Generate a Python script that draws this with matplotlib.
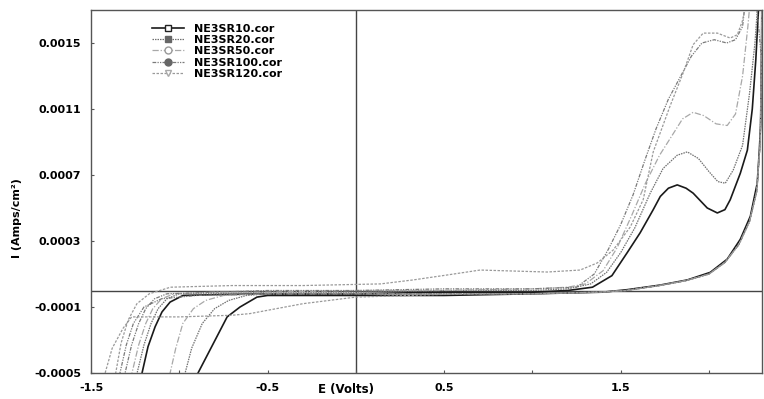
import matplotlib
matplotlib.use("Agg")
import matplotlib.pyplot as plt
from matplotlib.lines import Line2D
from matplotlib.ticker import FixedLocator

plt.rcParams['font.family'] = ['DejaVu Sans']
plt.rcParams['axes.unicode_minus'] = False

# ---------------- data ----------------
labels = ["NE3SR10.cor", "NE3SR20.cor", "NE3SR50.cor", "NE3SR100.cor", "NE3SR120.cor"]

E10 = [-1.23, -1.211, -1.177, -1.137, -1.098, -1.052, -0.979, -0.8, -0.5, 0.0, 0.5, 1.0, 1.2,
       1.34, 1.45, 1.537, 1.61, 1.684, 1.724, 1.77, 1.82, 1.87, 1.91, 1.99, 2.047, 2.09, 2.12,
       2.177, 2.217, 2.245, 2.265, 2.28, 2.3, 2.298, 2.292, 2.285, 2.273, 2.234, 2.177, 2.103,
       2.007, 1.877, 1.724, 1.537, 1.40, 1.0, 0.5, 0.0, -0.5, -0.56, -0.656, -0.729, -0.826,
       -0.894, -0.92]
I10 = [-0.0006, -0.0005, -0.00034, -0.00022, -0.00013, -0.00007, -0.00003, -0.000025, -0.00002,
       -0.00002, -0.00001, -0.00001, 0.0, 0.00002, 0.00009, 0.00023, 0.00035, 0.00049, 0.00057,
       0.00062, 0.00064, 0.00062, 0.00059, 0.0005, 0.00047, 0.00049, 0.00055, 0.00071, 0.00085,
       0.0011, 0.0014, 0.0017, 0.0020, 0.0015, 0.0010, 0.00085, 0.00065, 0.00045, 0.00031,
       0.00019, 0.00011, 0.000064, 0.000033, 0.000005, -0.00001, -0.00002, -0.00003, -0.00003,
       -0.00003, -0.00004, -0.0001, -0.00016, -0.00036, -0.0005, -0.0006]

E20 = [-1.26, -1.239, -1.2, -1.16, -1.12, -1.07, -1.0, -0.8, -0.5, 0.0, 0.5, 1.0, 1.2, 1.33,
       1.42, 1.5, 1.58, 1.667, 1.74, 1.82, 1.877, 1.94, 2.0, 2.05, 2.092, 2.137, 2.19, 2.23,
       2.26, 2.28, 2.3, 2.297, 2.29, 2.27, 2.23, 2.17, 2.09, 2.0, 1.87, 1.72, 1.53, 1.38, 1.0,
       0.5, 0.0, -0.5, -0.62, -0.72, -0.8, -0.87, -0.93, -0.967, -0.99]
I20 = [-0.0006, -0.0005, -0.00033, -0.0002, -0.00011, -0.00005, -0.00002, -0.00002, -0.00001,
       -0.00001, 0.0, 0.0, 0.00001, 0.00004, 0.00011, 0.00023, 0.00038, 0.00059, 0.00074,
       0.00082, 0.00084, 0.0008, 0.00072, 0.00066, 0.00065, 0.00073, 0.00088, 0.0012, 0.0015,
       0.0018, 0.0020, 0.0014, 0.0009, 0.0006, 0.00042, 0.00028, 0.00017, 0.0001, 0.00006,
       0.00003, 0.0, -0.00001, -0.00002, -0.00002, -0.00002, -0.00002, -0.00003, -0.00006,
       -0.00011, -0.0002, -0.00035, -0.0005, -0.0006]

E50 = [-1.29, -1.268, -1.23, -1.19, -1.15, -1.1, -1.03, -0.8, -0.5, 0.0, 0.5, 1.0, 1.2, 1.3,
       1.4, 1.48, 1.56, 1.64, 1.72, 1.797, 1.85, 1.91, 1.97, 2.04, 2.103, 2.15, 2.19, 2.22,
       2.245, 2.3, 2.297, 2.29, 2.27, 2.23, 2.17, 2.09, 2.0, 1.87, 1.72, 1.53, 1.38, 1.0, 0.5,
       0.0, -0.5, -0.75, -0.85, -0.92, -0.98, -1.02, -1.052, -1.07]
I50 = [-0.0006, -0.0005, -0.00033, -0.0002, -0.00011, -0.00005, -0.00002, -0.00001, -0.00001,
       0.0, 0.0, 0.00001, 0.00002, 0.00004, 0.00012, 0.00026, 0.00045, 0.00065, 0.00082,
       0.00095, 0.00104, 0.00108, 0.00106, 0.00101, 0.001, 0.00107, 0.0013, 0.0016, 0.0019,
       0.0021, 0.0014, 0.0009, 0.0006, 0.00042, 0.00028, 0.00017, 0.0001, 0.00006, 0.00003,
       0.0, -0.00001, -0.00002, -0.00002, -0.00002, -0.00002, -0.00003, -0.00006, -0.00011,
       -0.0002, -0.00035, -0.0005, -0.0006]

E100 = [-1.33, -1.307, -1.27, -1.23, -1.19, -1.14, -1.07, -0.8, -0.5, 0.0, 0.5, 1.0, 1.25,
        1.35, 1.43, 1.5, 1.57, 1.64, 1.7, 1.77, 1.84, 1.9, 1.96, 2.03, 2.1, 2.15, 2.19, 2.21,
        2.24, 2.297, 2.29, 2.27, 2.23, 2.17, 2.09, 2.0, 1.87, 1.72, 1.53, 1.38, 1.0, 0.5, 0.0,
        -0.5, -0.9, -1.1, -1.2, -1.26, -1.3, -1.336, -1.36]
I100 = [-0.0006, -0.0005, -0.00033, -0.0002, -0.00011, -0.00005, -0.00002, -0.00001, 0.0,
        0.0, 0.00001, 0.00001, 0.00002, 0.0001, 0.00025, 0.0004, 0.00058, 0.0008, 0.00098,
        0.00116, 0.0013, 0.00142, 0.0015, 0.00152, 0.0015, 0.00152, 0.0016, 0.0018, 0.0021,
        0.0014, 0.0009, 0.0006, 0.00042, 0.00028, 0.00017, 0.0001, 0.00006, 0.00003, 0.0,
        -0.00001, -0.00002, -0.00002, -0.00002, -0.00002, -0.00003, -0.00005, -0.0001,
        -0.0002, -0.00033, -0.0005, -0.0006]

E120 = [-1.38, -1.36, -1.33, -1.29, -1.24, -1.17, -1.05, -0.7, -0.3, 0.14, 0.324, 0.517,
        0.704, 0.891, 1.084, 1.27, 1.367, 1.457, 1.554, 1.627, 1.684, 1.78, 1.854, 1.91, 1.967,
        2.047, 2.12, 2.16, 2.188, 2.205, 2.22, 2.3, 2.297, 2.29, 2.27, 2.23, 2.17, 2.09, 2.0,
        1.87, 1.72, 1.53, 1.38, 1.0, 0.6, 0.3, 0.0, -0.3, -0.6, -0.7, -1.0, -1.27, -1.319,
        -1.38, -1.42, -1.45]
I120 = [-0.0006, -0.0005, -0.00032, -0.00018, -0.00008, -0.00002, 0.00002, 0.00003, 0.00003,
        0.00004, 0.000064, 0.000094, 0.000124, 0.000118, 0.000112, 0.000124, 0.000167,
        0.000245, 0.000385, 0.00055, 0.00084, 0.00112, 0.00132, 0.00149, 0.00156, 0.00156,
        0.00153, 0.00155, 0.00163, 0.00171, 0.0019, 0.0021, 0.0014, 0.0009, 0.0006, 0.00042,
        0.00028, 0.00017, 0.0001, 0.00006, 0.00003, 0.0, -0.00001, -0.00002, -0.00002,
        -0.00003, -0.00004, -0.00008, -0.00014, -0.00015, -0.00016, -0.00016, -0.00023,
        -0.00035, -0.0005, -0.0006]

x_ticks = [-1.5, -0.5, 0.5, 1.5]
x_minor = [-1.0, 0.0, 1.0, 2.0]
y_ticks = [-0.0005, -0.0001, 0.0003, 0.0007, 0.0011, 0.0015]
y_tick_labels = ["-0.0005", "-0.0001", "0.0003", "0.0007", "0.0011", "0.0015"]
x_tick_labels = ["-1.5", "-0.5", "0.5", "1.5"]

# ---------------- styles ----------------
series = [
    (E10, I10, dict(color="#1a1a1a", lw=1.2, ls="-"),
     dict(marker="s", mfc="white", mec="#222222")),
    (E20, I20, dict(color="#707070", lw=0.9, ls=(0, (1.2, 0.8))),
     dict(marker="s", mfc="#666666", mec="#666666")),
    (E50, I50, dict(color="#a8a8a8", lw=0.9, ls=(0, (5, 1.5, 1, 1.5))),
     dict(marker="o", mfc="white", mec="#999999")),
    (E100, I100, dict(color="#7a7a7a", lw=0.9, ls=(0, (3, 1, 1, 1, 1, 1))),
     dict(marker="o", mfc="#666666", mec="#666666")),
    (E120, I120, dict(color="#9a9a9a", lw=0.9, ls=(0, (2, 1.2))),
     dict(marker="v", mfc="white", mec="#aaaaaa")),
]

fig = plt.figure(figsize=(7.64, 3.99), dpi=100)
ax = fig.add_axes([91 / 764, 1 - 373 / 399, 671 / 764, 363 / 399])

for E, I, st, _ in series:
    ax.plot(E, I, **st)

ax.axhline(0, color="#444444", lw=1.0, zorder=1)
ax.axvline(0, color="#444444", lw=1.0, zorder=1)

ax.set_xlim(-1.5, 2.3)
ax.set_ylim(-0.0005, 0.0017)

ax.xaxis.set_major_locator(FixedLocator(x_ticks))
ax.xaxis.set_minor_locator(FixedLocator(x_minor))
ax.set_xticklabels(x_tick_labels)
ax.yaxis.set_major_locator(FixedLocator(y_ticks))
ax.set_yticklabels(y_tick_labels)
ax.tick_params(which="both", direction="in", length=2, width=0.8, color="#555555")
ax.tick_params(axis="both", labelsize=8, pad=7)
for t in ax.get_xticklabels() + ax.get_yticklabels():
    t.set_fontweight("bold")

for s in ax.spines.values():
    s.set_color("#555555")
    s.set_linewidth(1.0)

ax.set_xlabel("E (Volts)", fontsize=8.5, fontweight="bold")
ax.xaxis.set_label_coords((346 - 91) / 671, -0.028)
ax.set_ylabel("I (Amps/cm²)", fontsize=8, fontweight="bold")
ax.yaxis.set_label_coords(-0.103, 0.427)

handles = [Line2D([], [], markersize=5, **st, **mk) for _, _, st, mk in series]
leg = ax.legend(handles, labels, loc="upper left", bbox_to_anchor=(0.085, 0.975),
                frameon=False, fontsize=8, handlelength=2.8, handletextpad=0.9,
                labelspacing=0.12, borderaxespad=0.0)
for t in leg.get_texts():
    t.set_fontweight("bold")

fig.savefig("out.png", dpi=100)
